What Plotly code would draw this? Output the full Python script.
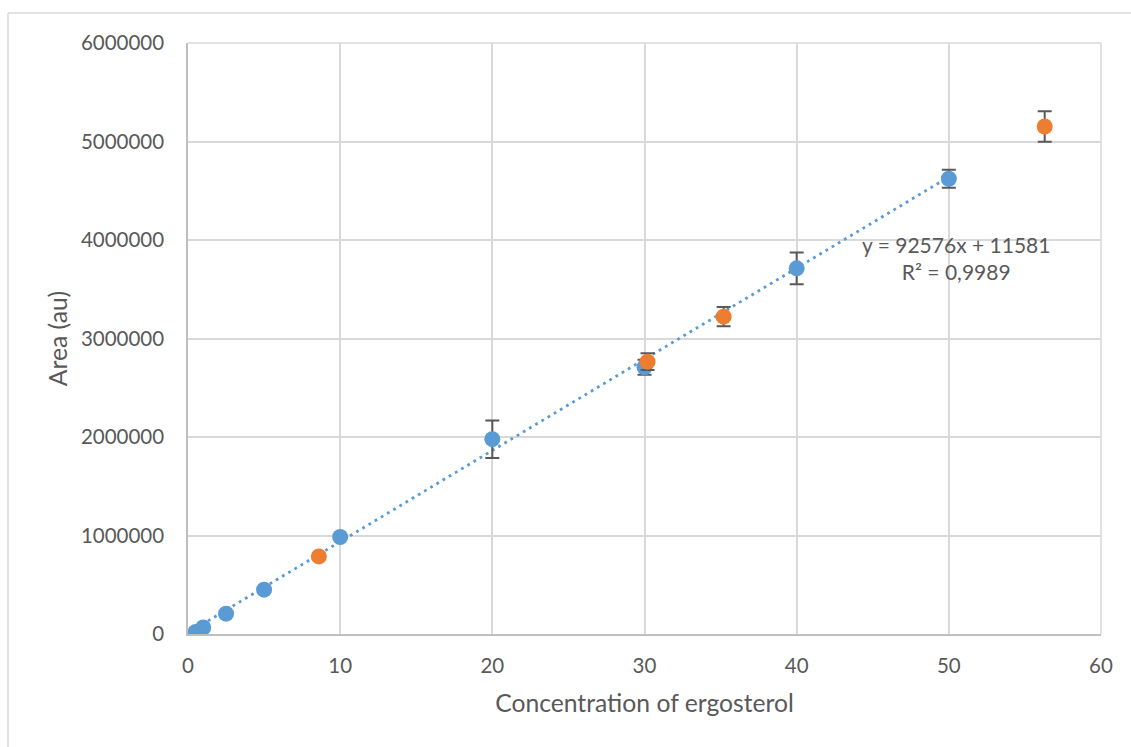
import plotly.graph_objects as go

# Calibration standards (blue)
std_x = [0.5, 1, 2.5, 5, 10, 20, 30, 40, 50]
std_y = [20000, 66000, 206000, 450000, 985000, 1978000, 2708000, 3712000, 4622000]
std_err = [8000, 8000, 10000, 12000, 15000, 190000, 75000, 160000, 92000]

# Samples (orange)
smp_x = [8.6, 30.2, 35.2, 56.3]
smp_y = [788000, 2765000, 3222000, 5152000]
smp_err = [12000, 85000, 97000, 155000]

# Linear trendline (Excel label)
slope = 92576
intercept = 11581
r2_text = "R² = 0,9989"

x_ticks = [0, 10, 20, 30, 40, 50, 60]
y_ticks = [0, 1000000, 2000000, 3000000, 4000000, 5000000, 6000000]

BLUE = "#5B9BD5"
ORANGE = "#ED7D31"
TXT = "#595959"
FONT = "Lato"

fig = go.Figure()

tx = [min(std_x), max(std_x)]
ty = [slope * v + intercept for v in tx]
fig.add_trace(go.Scatter(x=tx, y=ty, mode="lines",
                         line=dict(color=BLUE, width=2.8, dash="2.8px,4.4px"),
                         hoverinfo="skip", showlegend=False))

fig.add_trace(go.Scatter(x=std_x, y=std_y, mode="markers",
                         marker=dict(color=BLUE, size=16),
                         error_y=dict(type="data", array=std_err, visible=True,
                                      color="#595959", thickness=2, width=7),
                         showlegend=False))
fig.add_trace(go.Scatter(x=smp_x, y=smp_y, mode="markers",
                         marker=dict(color=ORANGE, size=16),
                         error_y=dict(type="data", array=smp_err, visible=True,
                                      color="#595959", thickness=2, width=7),
                         showlegend=False))

fig.add_annotation(x=50.5, y=3820000, xref="x", yref="y",
                   text=f"y = {slope}x + {intercept}<br>{r2_text}",
                   showarrow=False, align="center",
                   font=dict(family=FONT, size=21, color=TXT))

fig.update_layout(
    width=1131, height=747,
    margin=dict(l=188, r=30, t=43, b=113),
    paper_bgcolor="white", plot_bgcolor="white",
    font=dict(family=FONT, size=20.5, color=TXT),
    xaxis=dict(range=[0, 60], tickvals=x_ticks, ticktext=[str(v) for v in x_ticks],
               showgrid=True, gridcolor="#D9D9D9", gridwidth=1.5,
               showline=True, linecolor="#BFBFBF", linewidth=1.5, mirror=False,
               zeroline=False, ticks="", ticklen=0, ticklabelstandoff=13,
               title=dict(text="Concentration of ergosterol", standoff=18,
                          font=dict(family=FONT, size=24.7, color=TXT))),
    yaxis=dict(range=[0, 6000000], tickvals=y_ticks, ticktext=[str(v) for v in y_ticks],
               showgrid=True, gridcolor="#D9D9D9", gridwidth=1.5,
               showline=True, linecolor="#BFBFBF", linewidth=1.5,
               zeroline=False, ticks="", ticklen=0, ticklabelstandoff=18,
               title=dict(text="Area (au)", standoff=6,
                          font=dict(family=FONT, size=24.7, color=TXT))),
    shapes=[
        dict(type="line", xref="paper", yref="paper",
             x0=(8 - 188) / 913, x1=(8 - 188) / 913, y0=(634 - 13) / 591, y1=-0.3,
             line=dict(color="#D9D9D9", width=1.5)),
        dict(type="line", xref="paper", yref="paper",
             x0=(8 - 188) / 913, x1=1.1, y0=(634 - 13) / 591, y1=(634 - 13) / 591,
             line=dict(color="#D9D9D9", width=1.5)),
        dict(type="line", xref="paper", yref="paper",
             x0=1, x1=1, y0=0, y1=1,
             line=dict(color="#D9D9D9", width=1.5)),
        dict(type="line", xref="paper", yref="paper",
             x0=0, x1=1, y0=1, y1=1,
             line=dict(color="#D9D9D9", width=1.5)),
    ],
)

fig.write_html("out.html")
